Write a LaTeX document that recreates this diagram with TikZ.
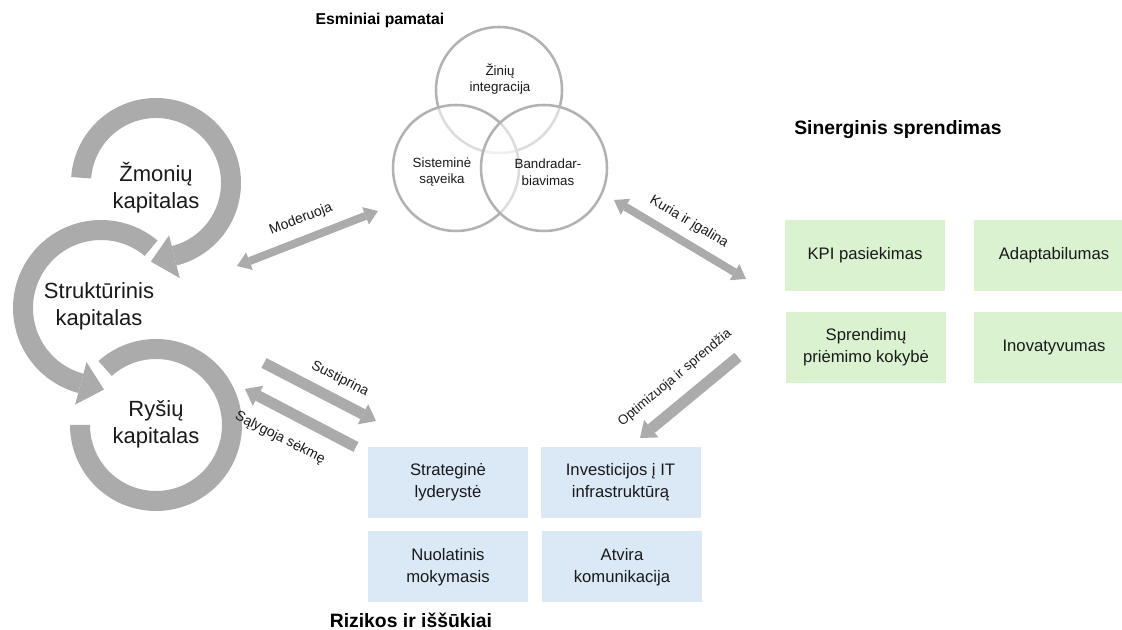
\documentclass[tikz,border=0pt]{standalone}
\usepackage{fontspec}
\setmainfont{Liberation Sans}
\usetikzlibrary{arrows.meta,calc}
\definecolor{band}{RGB}{171,171,171}
\definecolor{vennline}{RGB}{178,178,178}
\definecolor{txt}{RGB}{25,25,25}
\definecolor{greenbox}{RGB}{218,242,208}
\definecolor{bluebox}{RGB}{219,233,247}
\tikzset{
  cyc/.style={fill=band},
  capt/.style={text=txt, align=center, font=\fontsize{16.5}{20}\selectfont},
  vennc/.style={circle, draw=vennline, line width=1.9pt, fill=white, fill opacity=0.55, minimum size=94.5pt, inner sep=0pt},
  venntxt/.style={text=txt, align=center, font=\fontsize{10}{12.5}\selectfont},
  ttl/.style={text=black, font=\bfseries\fontsize{14.5}{17}\selectfont},
  boxbase/.style={minimum width=120pt, minimum height=53.25pt, inner sep=0pt, text=txt, align=center, font=\fontsize{12.5}{16.5}\selectfont},
  gbox/.style={boxbase, fill=greenbox},
  bbox/.style={boxbase, fill=bluebox},
  lbl/.style={text=txt, font=\fontsize{10.5}{12}\selectfont, inner sep=0pt},
  thinarrow/.style={draw=band, line width=6pt},
  thickarrow/.style={draw=band, line width=8.25pt},
  smallhead/.tip={Triangle[length=10pt,width=14pt,line width=0pt]},
  bighead/.tip={Triangle[length=11pt,width=17pt,line width=0pt]},
}
\begin{document}
\begin{tikzpicture}[x=0.75pt,y=-0.75pt]
\useasboundingbox (0,0) rectangle (1122,630);
\clip (0,0) rectangle (1122,630);

% ---- cycle of capitals ----
\begin{scope}[shift={(156,183)}, yscale=-1]
  \fill[cyc] (176:85) arc[start angle=176, end angle=-76, radius=85] -- (-76:65) arc[start angle=-76, end angle=176, radius=65] -- cycle;
  \fill[cyc] (-76:54) -- (-76:98) -- ({75*cos(-76)+24*sin(-76)},{75*sin(-76)-24*cos(-76)}) -- cycle;
\end{scope}
\begin{scope}[shift={(101,308)}, yscale=-1]
  \fill[cyc] (50:88) arc[start angle=50, end angle=255, radius=88] -- (255:68) arc[start angle=255, end angle=50, radius=68] -- cycle;
  \fill[cyc] (255:56) -- (255:100) -- ({78*cos(255)-24*sin(255)},{78*sin(255)+24*cos(255)}) -- cycle;
\end{scope}
\begin{scope}[shift={(156,425)}, yscale=-1]
  \fill[cyc] (132:86) arc[start angle=132, end angle=-180, radius=86] -- (-180:66) arc[start angle=-180, end angle=132, radius=66] -- cycle;
\end{scope}

\node[capt] (zmon) at (156,188) {Žmonių\\kapitalas};
\node[capt] (strk) at (99,306) {Struktūrinis\\kapitalas};
\node[capt] (rys) at (156,424) {Ryšių\\kapitalas};

% ---- Venn ----
\node[vennc] (vtop) at (499,90) {};
\node[vennc] (vleft) at (456,168) {};
\node[vennc] (vright) at (544,168) {};
\node[venntxt] (tzin) at (500,79) {Žinių\\integracija};
\node[venntxt] (tsis) at (442,172) {Sisteminė\\sąveika};
\node[venntxt] (tban) at (548,172) {Bandradar-\\biavimas};

% ---- titles ----
\node[ttl, font=\bfseries\fontsize{11.8}{14}\selectfont] (t1) at (380,20) {Esminiai pamatai};
\node[ttl] (t2) at (898,130) {Sinerginis sprendimas};
\node[ttl] (t3) at (411,620) {Rizikos ir iššūkiai};

% ---- boxes ----
\node[gbox] (kpi) at (865,255.5) {KPI pasiekimas};
\node[gbox] (adap) at (1054,255.5) {Adaptabilumas};
\node[gbox] (spr) at (866,347.5) {Sprendimų\\priėmimo kokybė};
\node[gbox] (inov) at (1054,347.5) {Inovatyvumas};

\node[bbox] (strat) at (448,482.5) {Strateginė\\lyderystė};
\node[bbox] (inv) at (620.5,482.5) {Investicijos į IT\\infrastruktūrą};
\node[bbox] (nuol) at (448,567) {Nuolatinis\\mokymasis};
\node[bbox] (atv) at (622,567) {Atvira\\komunikacija};

% ---- connector end points ----
\coordinate (m1) at (237,266); \coordinate (m2) at (378,211);
\coordinate (k1) at (614,200); \coordinate (k2) at (746,279);
\coordinate (o1) at (738,357); \coordinate (o2) at (640,438);
\coordinate (s1) at (264,363); \coordinate (s2) at (376,421);
\coordinate (g1) at (356,447); \coordinate (g2) at (245,389);

\draw[thinarrow, smallhead-smallhead] (m1) -- (m2);
\draw[thinarrow, smallhead-smallhead] (k1) -- (k2);
\draw[thickarrow, -bighead] (o1) -- (o2);
\draw[thickarrow, -bighead] (s1) -- (s2);
\draw[thickarrow, -bighead] (g1) -- (g2);

\node[lbl, rotate=21] (lmod) at (301,219) {Moderuoja};
\node[lbl, rotate=-31] (lkur) at (689,222) {Kuria ir įgalina};
\node[lbl, rotate=40, font=\fontsize{10}{12}\selectfont] (lopt) at (675,378) {Optimizuoja ir sprendžia};
\node[lbl, rotate=-27] (lsus) at (340,379) {Sustiprina};
\node[lbl, rotate=-27] (lsal) at (280,438) {Sąlygoja sėkmę};
\end{tikzpicture}
\end{document}
